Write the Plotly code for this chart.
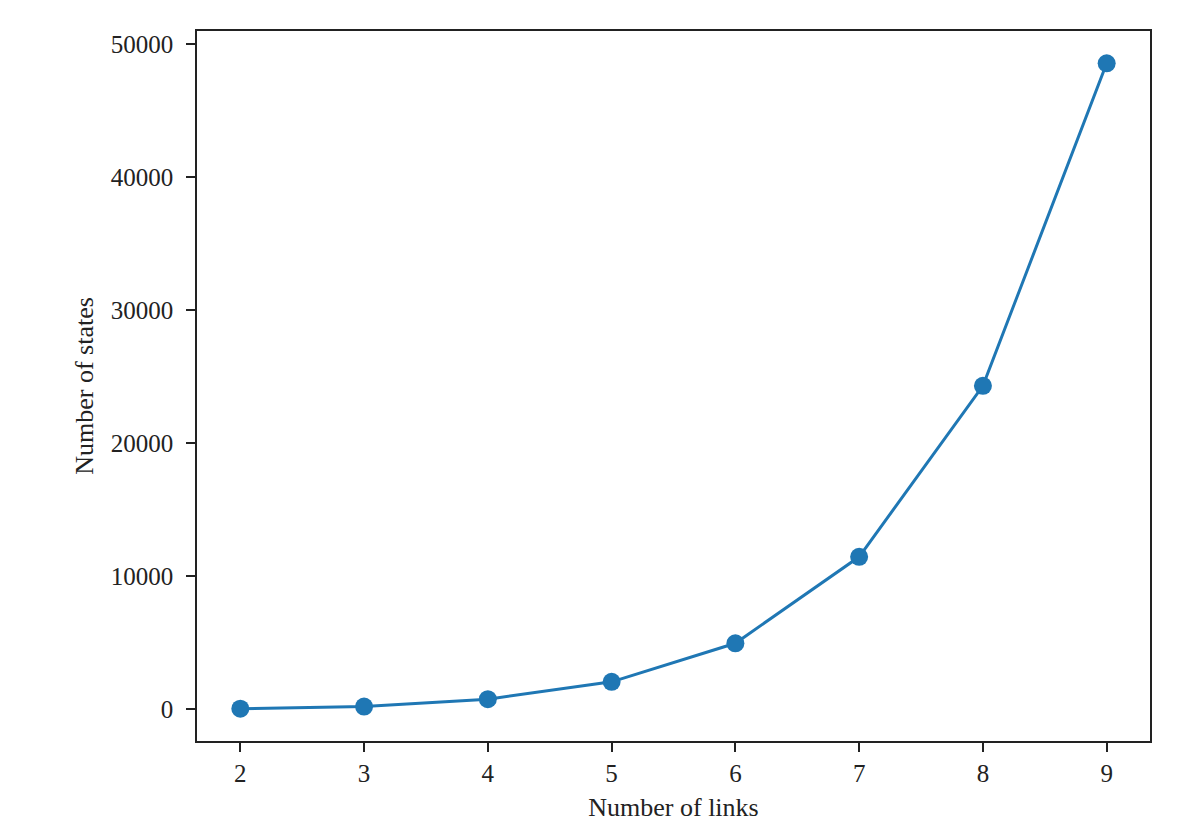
import plotly.graph_objects as go

links = [2, 3, 4, 5, 6, 7, 8, 9]
states = [30, 190, 750, 2050, 4950, 11450, 24300, 48550]

x_ticks = [2, 3, 4, 5, 6, 7, 8, 9]
y_ticks = [0, 10000, 20000, 30000, 40000, 50000]

FONT = "Liberation Serif, Times New Roman, serif"

fig = go.Figure()
fig.add_trace(go.Scatter(
    x=links, y=states, mode="lines+markers",
    line=dict(color="#1f77b4", width=3),
    marker=dict(color="#1f77b4", size=18),
    showlegend=False,
))

axis_common = dict(
    showgrid=False, zeroline=False, showline=True, linecolor="#222222", linewidth=1.5,
    mirror=True, ticks="outside", ticklen=9, tickwidth=1.5, tickcolor="#222222",
    tickfont=dict(family=FONT, size=25, color="#222222"),
)

fig.update_layout(
    width=1190, height=829,
    margin=dict(l=197, r=40, t=31, b=88),
    paper_bgcolor="white", plot_bgcolor="white",
    font=dict(family=FONT, size=25, color="#222222"),
    xaxis=dict(range=[1.65, 9.35], tickvals=x_ticks, ticktext=[str(v) for v in x_ticks],
               ticklabelstandoff=0,
               title=dict(text="Number of links", font=dict(family=FONT, size=26), standoff=12),
               **axis_common),
    yaxis=dict(range=[-2396, 50976], tickvals=y_ticks, ticktext=[str(v) for v in y_ticks],
               ticklabelstandoff=8,
               title=dict(text="Number of states", font=dict(family=FONT, size=26), standoff=10),
               **axis_common),
)

fig.write_html("out.html")
